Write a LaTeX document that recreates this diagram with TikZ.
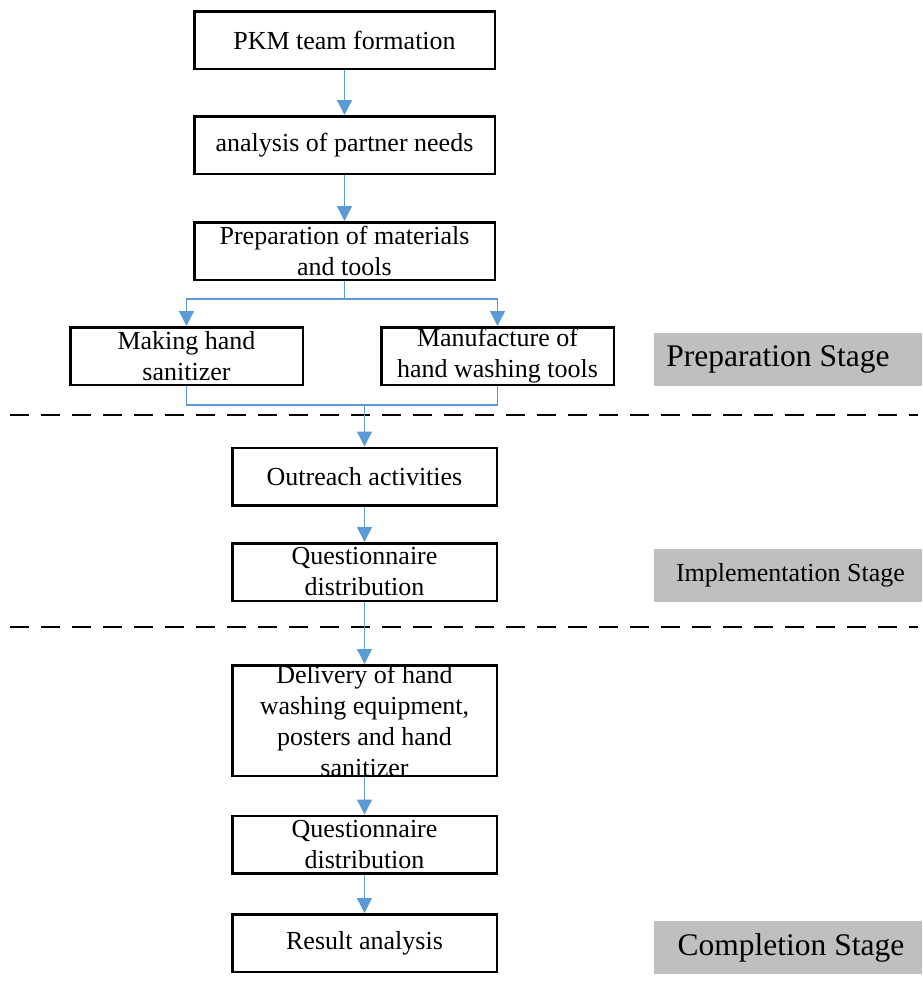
\documentclass[tikz,border=0pt]{standalone}
\usepackage{fontspec}
\setmainfont{Liberation Serif}
\usetikzlibrary{arrows.meta}
\definecolor{connblue}{RGB}{91,155,213}
\definecolor{stagegray}{RGB}{191,191,191}
\tikzset{
 box/.style={draw=black, line width=2.5pt, inner sep=0pt, align=center, font=\fontsize{26}{31}\selectfont},
 topbox/.style={box, minimum width=300.5pt, minimum height=57.5pt},
 sidebox/.style={box, minimum width=232.5pt, minimum height=57.5pt},
 lowbox/.style={box, minimum width=264.5pt, minimum height=57.5pt},
 boxtext/.style={inner sep=0pt, align=center, font=\fontsize{26}{31}\selectfont},
 link/.style={draw=connblue, line width=1.3pt},
 arr/.style={link, -{Triangle[width=15pt,length=15pt]}},
 stage/.style={fill=stagegray, inner sep=0pt, minimum width=268pt, minimum height=53pt},
 bigstage/.style={font=\fontsize{31.5}{36}\selectfont},
 smallstage/.style={font=\fontsize{26}{31}\selectfont},
 divider/.style={draw=black, line width=2pt, dash pattern=on 19pt off 12pt},
}
\begin{document}
\begin{tikzpicture}[x=1pt,y=-1pt]
\useasboundingbox (0,0) rectangle (922,1002);
% boxes
\node[topbox] (pkm) at (344.5,40) {PKM team formation};
\node[topbox] (ana) at (344.5,145) {analysis of partner needs};
\node[topbox] (prep) at (344.5,251) {Preparation of materials\\and tools};
\node[sidebox] (make) at (186.5,356) {Making hand\\sanitizer};
\node[sidebox] (manu) at (497.5,356) {Manufacture of\\hand washing tools};
\node[lowbox] (out) at (364.5,476.5) {Outreach activities};
\node[lowbox] (q1) at (364.5,572) {Questionnaire\\distribution};
\node[box, minimum width=264.5pt, minimum height=110.5pt] (del) at (364.5,720.5) {};
\node[boxtext] (deltext) at (del.center) {Delivery of hand\\washing equipment,\\posters and hand\\sanitizer};
\node[lowbox] (q2) at (364.5,844.5) {Questionnaire\\distribution};
\node[lowbox] (res) at (364.5,943) {Result analysis};
% stage labels
\node[stage] (sprep) at (788,359.5) {};
\node[bigstage, inner sep=0pt] (sprept) at (778,359.5) {Preparation Stage};
\node[stage] (simpl) at (788,575.5) {};
\node[smallstage, inner sep=0pt] (simplt) at (790.5,575.5) {Implementation Stage};
\node[stage] (scomp) at (788,947.5) {};
\node[bigstage, inner sep=0pt] (scompt) at (791,947.5) {Completion Stage};
% dividers
\coordinate (d1a) at (10,415);
\coordinate (d1b) at (918,415);
\coordinate (d2a) at (10,627);
\coordinate (d2b) at (918,627);
\draw[divider] (d1a) -- (d1b);
\draw[divider] (d2a) -- (d2b);
% connectors
\draw[arr] (pkm.south) -- (ana.north);
\draw[arr] (ana.south) -- (prep.north);
\coordinate (split) at (344.5,299);
\draw[link] (prep.south) -- (split);
\draw[arr] (split) -| (make.north);
\draw[arr] (split) -| (manu.north);
\coordinate (merge) at (364.5,405);
\draw[link] (make.south) |- (merge);
\draw[link] (manu.south) |- (merge);
\draw[arr] (merge) -- (out.north);
\draw[arr] (out.south) -- (q1.north);
\draw[arr] (q1.south) -- (del.north);
\draw[arr] (del.south) -- (q2.north);
\draw[arr] (q2.south) -- (res.north);
\end{tikzpicture}
\end{document}
